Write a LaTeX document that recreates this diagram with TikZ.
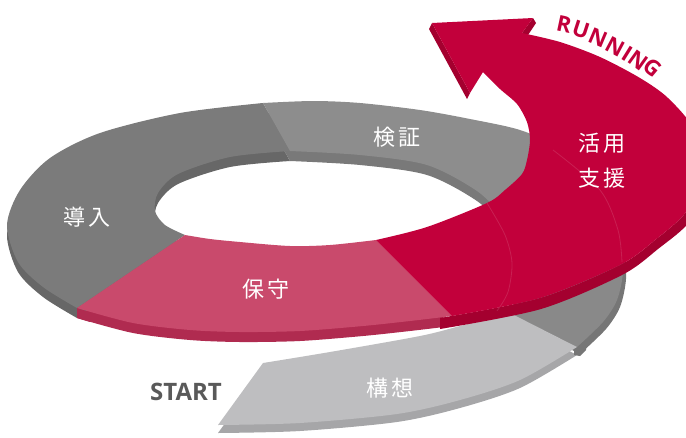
\documentclass[tikz,border=0pt]{standalone}
\usepackage{fontspec}
\newfontfamily\jpfont{Noto Sans CJK JP}
\newfontfamily\latinfont{Open Sans}
\usepackage{tikz}
\usepackage{xcolor}

\definecolor{runred}{HTML}{C2003B}
\definecolor{runredside}{HTML}{A4002F}
\definecolor{keepred}{HTML}{C94A6C}
\definecolor{keepredside}{HTML}{B02B50}
\definecolor{introgray}{HTML}{7B7B7B}
\definecolor{introside}{HTML}{676767}
\definecolor{testgray}{HTML}{8D8D8D}
\definecolor{testside}{HTML}{797979}
\definecolor{plangray}{HTML}{BEBEC0}
\definecolor{planside}{HTML}{A6A6A8}
\definecolor{turngray}{HTML}{898989}
\definecolor{turnside}{HTML}{767676}
\definecolor{labelgray}{HTML}{595959}

\def\turnpart{(510,313) -- (577,347) -- plot[smooth] coordinates {(577,347) (603,322) (617,300) (623,272) (621,240)} -- (540,230) -- cycle}
\def\planpart{(263,363) -- (218,425) -- plot[smooth] coordinates {(218,425) (300,423) (397,414) (460,400) (520,380) (577,347)} -- (510,313) -- plot[smooth] coordinates {(510,313) (460,326) (420,336) (330,352) (263,363)} -- cycle}
\def\intropart{(263,103) -- plot[smooth] coordinates {(263,103) (180,113) (100,133) (50,158) (20,190) (7,225) (18,262) (43,287) (77,308)} -- (185,235) -- plot[smooth] coordinates {(185,235) (165,225) (155,211) (158,193) (178,174) (230,157) (290,151)} -- cycle}
\def\testpart{(263,103) -- plot[smooth] coordinates {(263,103) (313,101) (360,103) (420,110) (470,119) (520,130) (560,148) (585,172)} -- (505,218) -- plot[smooth] coordinates {(505,218) (477,191) (427,165) (360,155) (290,151)} -- cycle}
\def\keeppart{(77,308) -- plot[smooth] coordinates {(77,308) (133,323) (190,330) (240,332) (300,331) (363,326) (410,321) (452,316)} -- (376,240) -- plot[smooth] coordinates {(376,240) (330,245) (290,246) (240,242) (210,239) (185,235)} -- cycle}
\def\runpart{(376,240) -- (452,316) -- plot[smooth] coordinates {(452,316) (540,298) (620,265) (655,240) (686,212) (700,175) (694,130) (668,98) (640,78) (600,57) (560,42) (522,33)} -- (533,18) -- (432,23) -- (470,93) -- (483,72) -- plot[smooth] coordinates {(483,72) (500,89) (517,104) (527,122) (530,140) (527,160) (522,174) (505,190) (487,203) (427,227) (376,240)} -- cycle}

\tikzset{stage/.style = {text = white, font = \jpfont\fontsize{22}{22}\selectfont}}

\begin{document}
\begin{tikzpicture}[x = 1pt, y = -1pt]
	\useasboundingbox (0,0) rectangle (686,437);
	\fill[turnside, shift = {(3,7)}] \turnpart;
	\fill[planside, shift = {(0,8)}] \planpart;
	\fill[turnside] (574,346) -- (586,340) -- (586,350) -- (580,356) -- (574,355) -- cycle;
	\fill[turngray] \turnpart;
	\fill[plangray] \planpart;
	\fill[introside, shift = {(0,10)}] \intropart;
	\fill[testside, shift = {(0,10)}] \testpart;
	\fill[keepredside, shift = {(0,10)}] \keeppart;
	\fill[keepredside] (77,308) -- (90,312) -- (90,322) -- (77,318) -- cycle;
	\fill[introgray] \intropart;
	\fill[testgray] \testpart;
	\fill[keepred] \keeppart;
	\fill[runredside] plot[smooth] coordinates {(440,318) (540,298) (620,265) (655,240) (686,212) (700,175)} -- plot[smooth] coordinates {(704,182) (690,221) (658,249) (622,275) (541,309) (440,329)} -- cycle;
	\fill[runredside] (432,23) -- (470,93) -- (467,99) -- (429,29) -- cycle;
	\fill[runredside] (533,18) -- (536,23) -- (526,38) -- (522,33) -- cycle;
	\fill[runred] \runpart;
	\draw[white, opacity = 0.12, line width = 0.8] plot[smooth] coordinates {(487,203) (505,235) (512,263) (508,292) (497,311)};
	\draw[white, opacity = 0.12, line width = 0.8] plot[smooth] coordinates {(553,150) (600,190) (618,230) (622,262)};
	\node[stage] (test) at (397,137) {検\hspace{3pt}証};
	\node[stage] (intro) at (87,217) {導\hspace{3pt}入};
	\node[stage] (keep) at (266,289) {保\hspace{3pt}守};
	\node[stage] (use) at (602,143) {活\hspace{3pt}用};
	\node[stage] (support) at (602,178) {支\hspace{3pt}援};
	\node[stage] (plan) at (390,388) {構\hspace{3pt}想};
	\node[text = labelgray, font = \latinfont\bfseries\fontsize{24}{24}\selectfont] (start) at (186,392) {START};
	\foreach \ch/\px/\py/\ang [count = \k] in {R/564/24/-12, U/581/30/-18, N/598/38/-23, N/615/47/-28, I/627/54/-32, N/638/60/-36, G/653/68/-40}
		\node[text = runred, font = \latinfont\bfseries\fontsize{22}{22}\selectfont, inner sep = 0pt, rotate = \ang] (run\k) at (\px,\py) {\ch};
\end{tikzpicture}
\end{document}
